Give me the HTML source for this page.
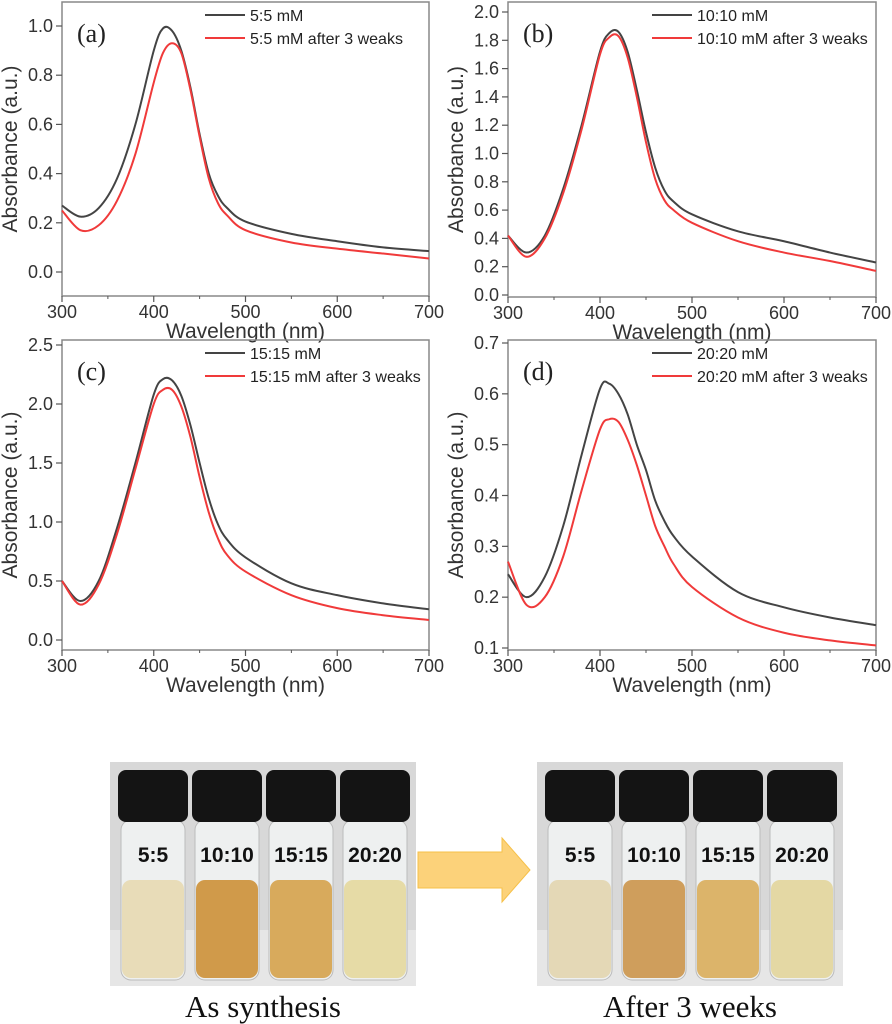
<!DOCTYPE html>
<html><head><meta charset="utf-8"><style>
body{margin:0;background:#fff;width:892px;height:1024px;overflow:hidden;font-family:"Liberation Sans",Arial,sans-serif}
svg{position:absolute;left:0;top:0}
</style></head><body>
<svg id="fig" width="892" height="1024" viewBox="0 0 892 1024"></svg>
<script>
const wavelengths=[300,320,340,360,380,400,410,420,430,440,450,460,470,480,500,550,600,650,700];
const aBlack=[0.27,0.225,0.26,0.38,0.6,0.9,0.99,0.98,0.9,0.75,0.56,0.40,0.31,0.26,0.205,0.155,0.125,0.10,0.085];
const aRed=[0.25,0.17,0.19,0.29,0.48,0.77,0.89,0.93,0.89,0.74,0.55,0.38,0.28,0.23,0.17,0.12,0.095,0.075,0.055];
const bBlack=[0.42,0.3,0.42,0.75,1.2,1.72,1.85,1.86,1.72,1.45,1.15,0.9,0.74,0.66,0.57,0.45,0.38,0.30,0.23];
const bRed=[0.42,0.27,0.4,0.72,1.17,1.7,1.82,1.83,1.68,1.4,1.08,0.82,0.67,0.6,0.51,0.38,0.30,0.24,0.17];
const cBlack=[0.5,0.33,0.5,0.95,1.5,2.08,2.21,2.2,2.07,1.82,1.5,1.2,0.98,0.85,0.7,0.48,0.38,0.31,0.26];
const cRed=[0.5,0.3,0.47,0.9,1.45,2.0,2.12,2.12,1.98,1.72,1.38,1.08,0.86,0.72,0.58,0.38,0.27,0.21,0.17];
const dBlack=[0.245,0.2,0.24,0.34,0.48,0.61,0.62,0.6,0.56,0.5,0.45,0.39,0.35,0.32,0.28,0.21,0.18,0.16,0.145];
const dRed=[0.27,0.185,0.2,0.28,0.41,0.53,0.55,0.545,0.51,0.46,0.4,0.34,0.3,0.265,0.22,0.16,0.13,0.115,0.105];
const xTicks=[300,400,500,600,700];
const aTicks=[0.0,0.2,0.4,0.6,0.8,1.0];
const bTicks=[0.0,0.2,0.4,0.6,0.8,1.0,1.2,1.4,1.6,1.8,2.0];
const cTicks=[0.0,0.5,1.0,1.5,2.0,2.5];
const dTicks=[0.1,0.2,0.3,0.4,0.5,0.6,0.7];
const legendA=["5:5 mM","5:5 mM after 3 weaks"];
const legendB=["10:10 mM","10:10 mM after 3 weaks"];
const legendC=["15:15 mM","15:15 mM after 3 weaks"];
const legendD=["20:20 mM","20:20 mM after 3 weaks"];

const NS="http://www.w3.org/2000/svg";
const svg=document.getElementById('fig');
function mk(tag,attrs,parent,text){const e=document.createElementNS(NS,tag);for(const k in attrs)e.setAttribute(k,attrs[k]);if(text!==undefined)e.textContent=text;(parent||svg).appendChild(e);return e;}
function spline(pts){let d=`M${pts[0][0]},${pts[0][1]}`;for(let i=0;i<pts.length-1;i++){const p0=pts[Math.max(i-1,0)],p1=pts[i],p2=pts[i+1],p3=pts[Math.min(i+2,pts.length-1)];const c1=[p1[0]+(p2[0]-p0[0])/6,p1[1]+(p2[1]-p0[1])/6],c2=[p2[0]-(p3[0]-p1[0])/6,p2[1]-(p3[1]-p1[1])/6];d+=`C${c1[0]},${c1[1]} ${c2[0]},${c2[1]} ${p2[0]},${p2[1]}`;}return d;}

function panel(id,cfg){
  const g=mk('g',{});
  
  
  const X=w=>cfg.x0+(w-300)/400*(cfg.x1-cfg.x0);
  const Y=v=>cfg.yv0+(v-cfg.v0)/(cfg.v1-cfg.v0)*(cfg.yv1-cfg.yv0);
  const box=mk('rect',{x:cfg.x0,y:cfg.top,width:cfg.x1-cfg.x0,height:cfg.bot-cfg.top,fill:'none',stroke:'#888','stroke-width':1.5},g);
  
  xTicks.forEach((t,i)=>{
    mk('line',{x1:X(t),x2:X(t),y1:cfg.bot,y2:cfg.bot+6,stroke:'#555','stroke-width':1.2},g);
    if(i<xTicks.length-1) mk('line',{x1:X(t+50),x2:X(t+50),y1:cfg.bot,y2:cfg.bot+3,stroke:'#555'},g);
    const tl=mk('text',{x:X(t),y:cfg.bot+22,'text-anchor':'middle','font-size':18,fill:'#333'},g,String(t));
    
  });
  cfg.ticks.forEach(t=>{
    mk('line',{x1:cfg.x0-6,x2:cfg.x0,y1:Y(t),y2:Y(t),stroke:'#555','stroke-width':1.2},g);
    const tl=mk('text',{x:cfg.x0-9,y:Y(t)+6,'text-anchor':'end','font-size':18,fill:'#333'},g,t.toFixed(1));
    
  });
  const xt=mk('text',{x:(cfg.x0+cfg.x1)/2,y:cfg.bot+42,'text-anchor':'middle','font-size':21,fill:'#333'},g,'Wavelength (nm)');
  
  const yc=(cfg.top+cfg.bot)/2;
  const yt=mk('text',{x:cfg.x0-45,y:yc,'text-anchor':'middle','font-size':21,fill:'#333',transform:`rotate(-90 ${cfg.x0-45} ${yc})`},g,'Absorbance (a.u.)');
  
  const lt=mk('text',{x:cfg.x0+15,y:cfg.top+40,'font-size':26,'font-family':'Liberation Serif,serif',fill:'#222'},g,'('+id+')');
  
  [[cfg.black,'#444'],[cfg.red,'#f03a3a']].forEach(([arr,col],k)=>{
    const pts=wavelengths.map((w,i)=>[X(w),Y(arr[i])]);
    const p=mk('path',{d:spline(pts),fill:'none',stroke:col,'stroke-width':2},g);
    
    
    const ly=cfg.top+13+k*23;
    mk('line',{x1:cfg.lx,x2:cfg.lx+40,y1:ly,y2:ly,stroke:col,'stroke-width':2},g);
    const t=mk('text',{x:cfg.lx+45,y:ly+6,'font-size':16,fill:'#222'},g,cfg.legend[k]);
    
  });
}
panel('a',{x0:62,x1:429,top:2,bot:296,v0:0,v1:1,yv0:272,yv1:26,ticks:aTicks,black:aBlack,red:aRed,legend:legendA,lx:205});
panel('b',{x0:508,x1:876,top:2,bot:297,v0:0,v1:2,yv0:295,yv1:12,ticks:bTicks,black:bBlack,red:bRed,legend:legendB,lx:652});
panel('c',{x0:62,x1:429,top:340,bot:650,v0:0,v1:2.5,yv0:640,yv1:345,ticks:cTicks,black:cBlack,red:cRed,legend:legendC,lx:205});
panel('d',{x0:508,x1:876,top:340,bot:650,v0:0.1,v1:0.7,yv0:648,yv1:343,ticks:dTicks,black:dBlack,red:dRed,legend:legendD,lx:652});

// photos
const liquids=[['#e8dcb8','#d09a4a','#d8aa5c','#e6dba6'],['#e4d8b6','#cf9e5c','#dcb46a','#e4d8a4']];
const labels=['5:5','10:10','15:15','20:20'];
[[110,'As synthesis',0],[537,'After 3 weeks',1]].forEach(([px,cap,k])=>{
  const g=mk('g',{});
  
  
  mk('rect',{x:px,y:762,width:306,height:224,fill:'#d8d8d8'},g);
  mk('rect',{x:px,y:930,width:306,height:56,fill:'#e6e6e6'},g);
  for(let i=0;i<4;i++){
    const vx=px+8+i*74;
    mk('rect',{x:vx+3,y:820,width:64,height:160,rx:10,fill:'#eef0f0',stroke:'#bbb'},g);
    mk('rect',{x:vx+4,y:880,width:62,height:98,rx:9,fill:liquids[k][i]},g);
    mk('rect',{x:vx,y:770,width:70,height:52,rx:8,fill:'#141414'},g);
    mk('text',{x:vx+35,y:862,'text-anchor':'middle','font-size':21,'font-weight':'bold',fill:'#111'},g,labels[i]);
  }
  const c=mk('text',{x:px+153,y:1017,'text-anchor':'middle','font-size':31,'font-family':'Liberation Serif,serif',fill:'#111'},g,cap);
  
});
const ar=mk('polygon',{points:'418,852 502,852 502,838 530,870 502,902 502,888 418,888',fill:'#fcd27a',stroke:'#f6c048'});


</script>
</body></html>
